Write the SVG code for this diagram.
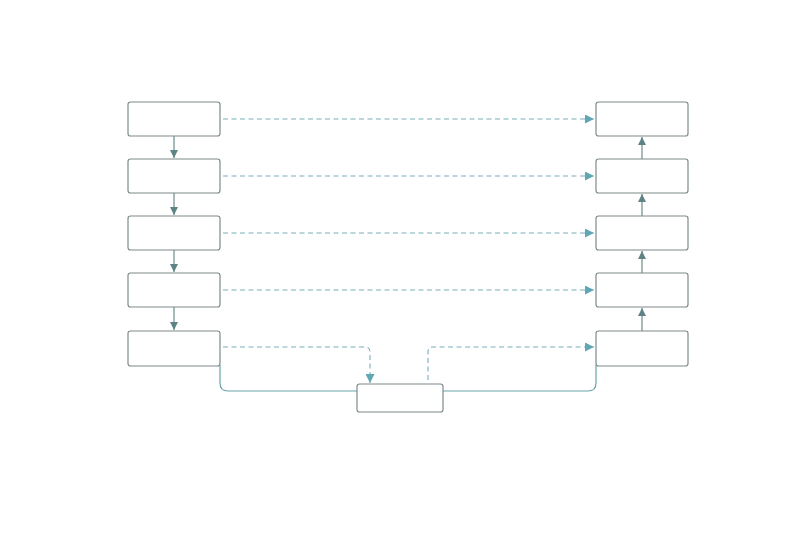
<svg xmlns="http://www.w3.org/2000/svg" width="800" height="533" viewBox="0 0 800 533">
<style>
.box{fill:#ffffff;stroke:#7f8a8a;stroke-width:1.2}
.flow{fill:none;stroke:#6b8c8c;stroke-width:1.2}
.dash{fill:none;stroke:#78b0b8;stroke-width:1.1;stroke-dasharray:5 3.5;stroke-dashoffset:-3}
.solid{fill:none;stroke:#6aa3a8;stroke-width:1.2}
</style>
<defs>
<marker id="ah" viewBox="0 0 10 10" refX="10" refY="5" markerWidth="8" markerHeight="8" markerUnits="userSpaceOnUse" orient="auto"><path d="M0,0 L10,5 L0,10 z" fill="#5e8384"/></marker>
<marker id="ad" viewBox="0 0 10 10" refX="10" refY="5" markerWidth="9" markerHeight="9" markerUnits="userSpaceOnUse" orient="auto"><path d="M0,0 L10,5 L0,10 z" fill="#5fa7b5"/></marker>
</defs>
<rect width="800" height="533" fill="#ffffff"/>
<g id="connectors">
<path class="flow" d="M174,136 V158" marker-end="url(#ah)"/>
<path class="flow" d="M174,193 V215" marker-end="url(#ah)"/>
<path class="flow" d="M174,250 V272" marker-end="url(#ah)"/>
<path class="flow" d="M174,307 V330" marker-end="url(#ah)"/>
<path class="flow" d="M642,331 V308" marker-end="url(#ah)"/>
<path class="flow" d="M642,273 V251" marker-end="url(#ah)"/>
<path class="flow" d="M642,216 V194" marker-end="url(#ah)"/>
<path class="flow" d="M642,159 V137" marker-end="url(#ah)"/>
<path class="dash" d="M220,119 H594" marker-end="url(#ad)"/>
<path class="dash" d="M220,176 H594" marker-end="url(#ad)"/>
<path class="dash" d="M220,233 H594" marker-end="url(#ad)"/>
<path class="dash" d="M220,290 H594" marker-end="url(#ad)"/>
<path class="dash" d="M220,347 H365 Q370,347 370,352 V383" marker-end="url(#ad)"/>
<path class="dash" d="M428,383 V352 Q428,347 433,347 H594" marker-end="url(#ad)"/>
<path class="solid" d="M220,365 V383 Q220,391 228,391 H357"/>
<path class="solid" d="M443,391 H588 Q596,391 596,383 V365"/>
</g>
<g id="l1"><rect class="box" x="128" y="102" width="92" height="34" rx="2.5"/></g>
<g id="l2"><rect class="box" x="128" y="159" width="92" height="34" rx="2.5"/></g>
<g id="l3"><rect class="box" x="128" y="216" width="92" height="34" rx="2.5"/></g>
<g id="l4"><rect class="box" x="128" y="273" width="92" height="34" rx="2.5"/></g>
<g id="l5"><rect class="box" x="128" y="331" width="92" height="35" rx="2.5"/></g>
<g id="r1"><rect class="box" x="596" y="102" width="92" height="34" rx="2.5"/></g>
<g id="r2"><rect class="box" x="596" y="159" width="92" height="34" rx="2.5"/></g>
<g id="r3"><rect class="box" x="596" y="216" width="92" height="34" rx="2.5"/></g>
<g id="r4"><rect class="box" x="596" y="273" width="92" height="34" rx="2.5"/></g>
<g id="r5"><rect class="box" x="596" y="331" width="92" height="35" rx="2.5"/></g>
<g id="bottom"><rect class="box" x="357" y="384" width="86" height="28" rx="2.5"/></g>
</svg>
